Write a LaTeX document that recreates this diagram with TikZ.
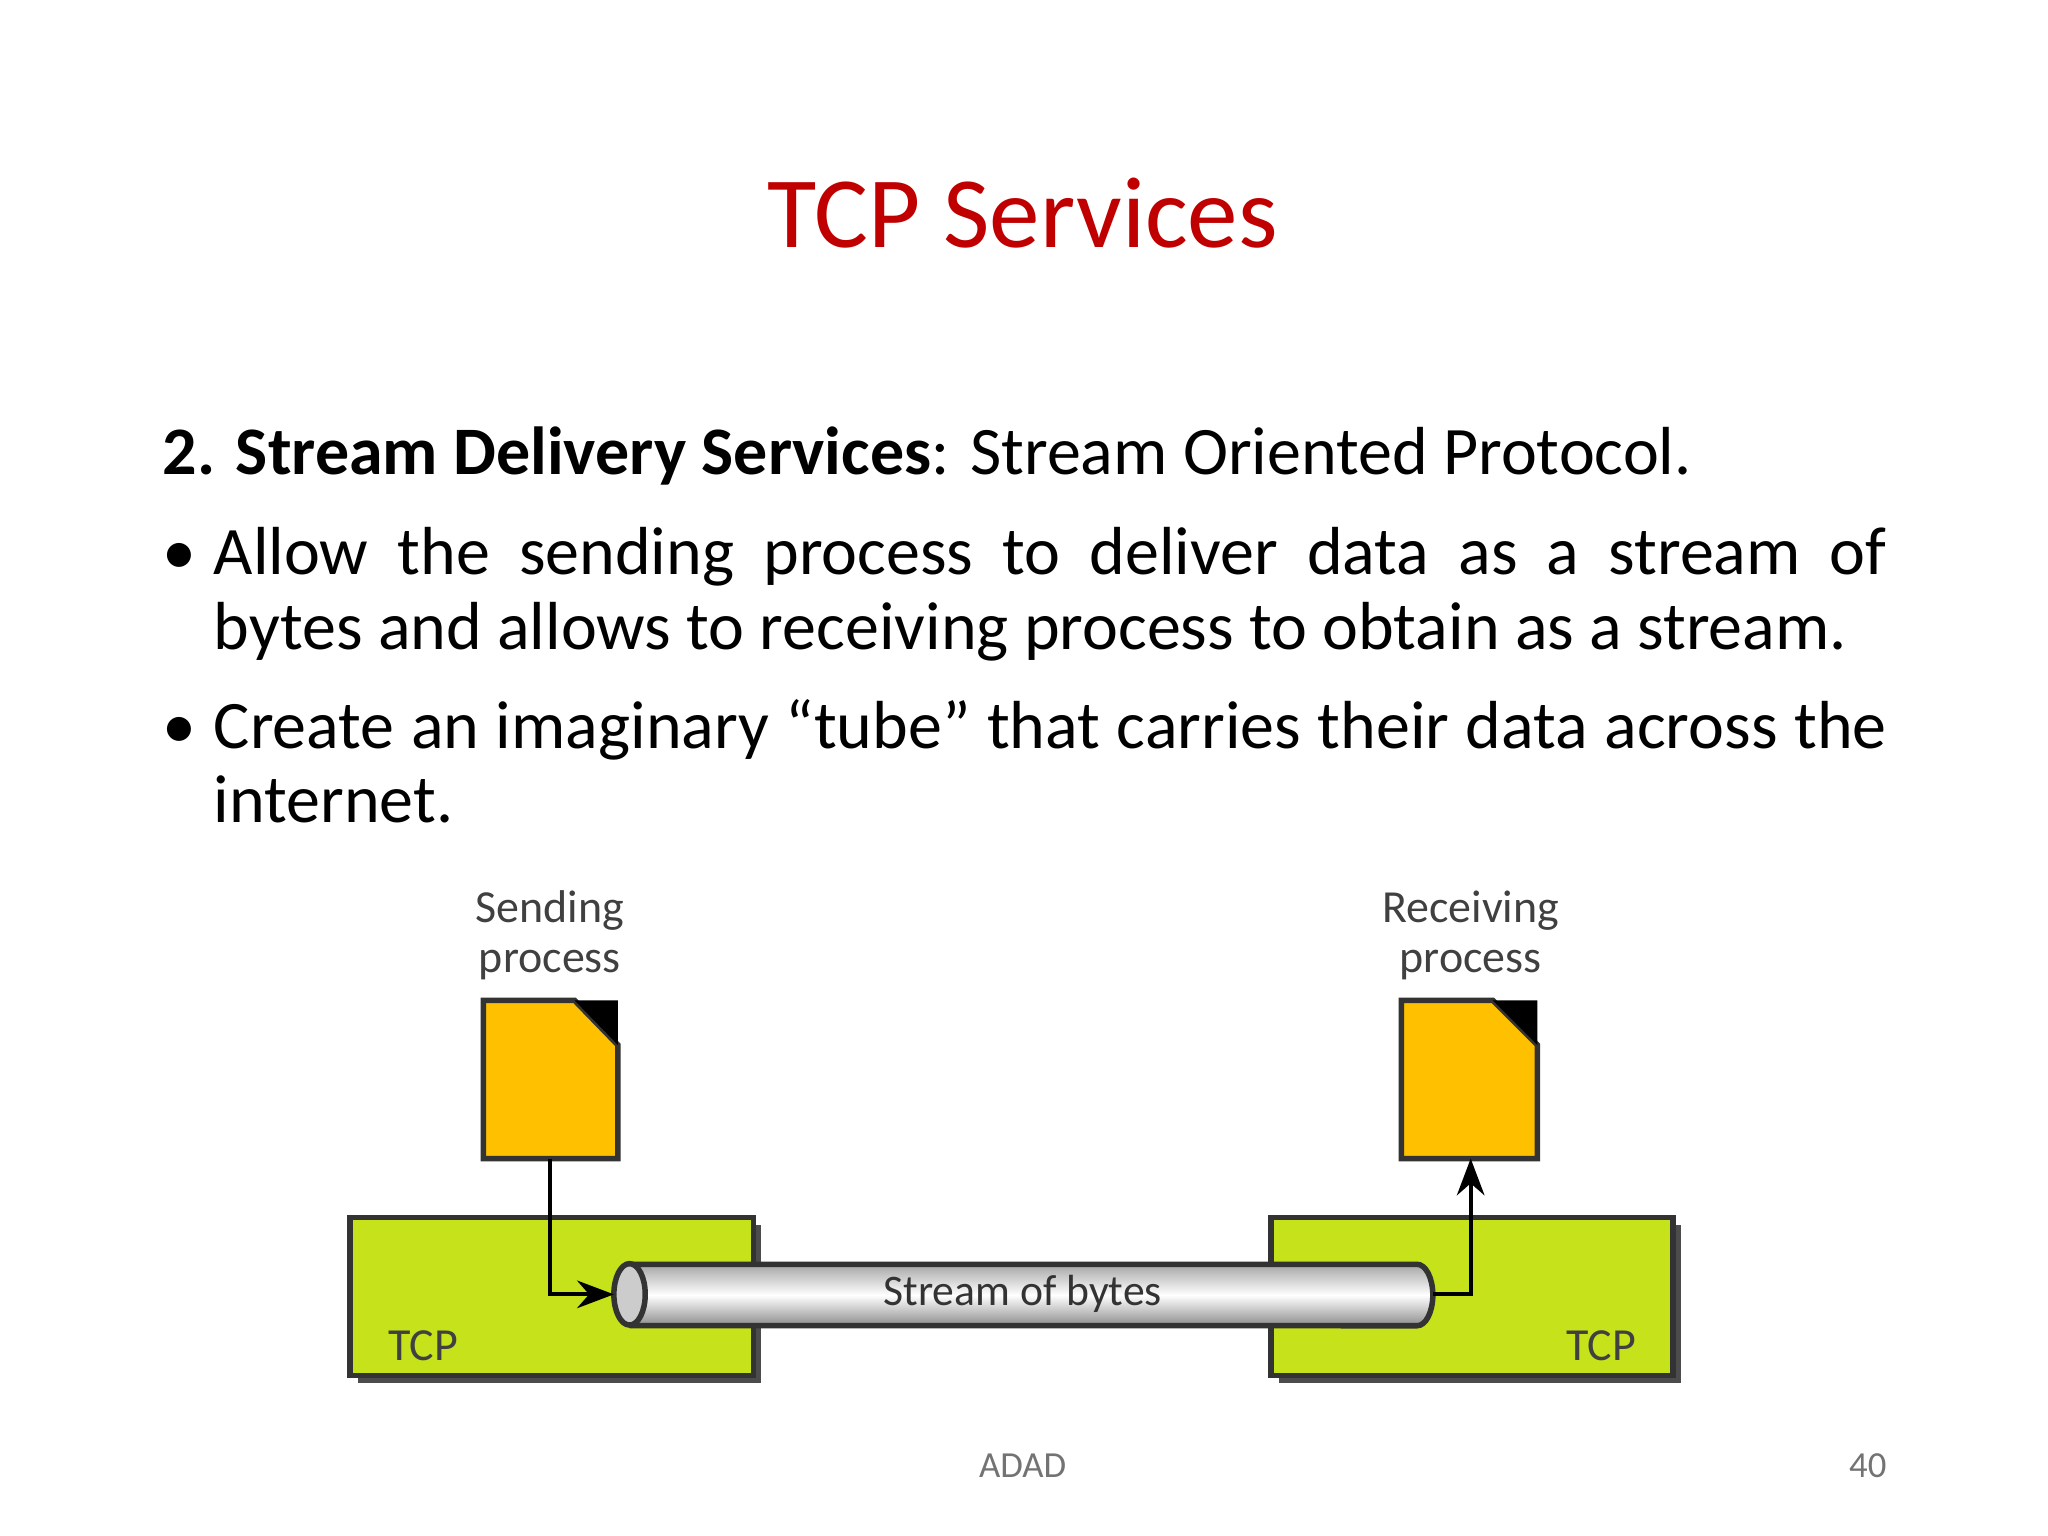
\documentclass[tikz,border=0pt]{standalone}
\usepackage{fontspec}
\setmainfont{Carlito}
\usetikzlibrary{arrows.meta,shadings}
\definecolor{tred}{HTML}{C00000}
\definecolor{tgreen}{HTML}{C5E21A}
\definecolor{tyel}{HTML}{FFC000}
\tikzset{
 tcpbox/.style={draw=black!80,line width=1.2pt,fill=tgreen},
 doc/.style={draw=black!80,line width=1.2pt,fill=tyel},
 lbl/.style={font=\fontsize{10}{10.8}\selectfont,text=black!75,align=center},
 conn/.style={line width=0.9pt,-{Stealth[length=8pt,width=6pt]}},
 body/.style={font=\fontsize{14.8}{16.2}\selectfont,anchor=base west,inner sep=0}
}
\begin{document}
\begin{tikzpicture}[x=0.01cm,y=-0.01cm]
\useasboundingbox (0,0) rectangle (1568,1176);
\node[text=tred,font=\fontsize{22}{26}\selectfont] (title) at (783,163) {TCP Services};
\node[body] (head) at (124,363) {\textbf{2. Stream Delivery Services}: Stream Oriented Protocol.};
\node[body] (b1) at (124,440) {•};
\node[body] (t1a) at (163,440) {\makebox[12.8cm][s]{Allow the sending process to deliver data as a stream of}};
\node[body] (t1b) at (163,497) {bytes and allows to receiving process to obtain as a stream.};
\node[body] (b2) at (124,573) {•};
\node[body] (t2a) at (163,573) {\makebox[12.8cm][s]{Create an imaginary “tube” that carries their data across the}};
\node[body] (t2b) at (163,630) {internet.};
% TCP boxes
\fill[black!70] (274,938) rectangle (583,1059);
\fill[black!70] (979,938) rectangle (1287,1059);
\draw[tcpbox] (268,932) rectangle (577,1053);
\draw[tcpbox] (973,932) rectangle (1281,1053);
\node[lbl,anchor=west] (tl) at (285,1030) {TCP};
\node[lbl,anchor=east] (tr) at (1265,1030) {TCP};
% docs
\draw[doc] (370,766) -- (440,766) -- (473,800) -- (473,887) -- (370,887) -- cycle;
\fill[black] (440,766) -- (473,800) -- (473,766) -- cycle;
\draw[doc] (1073,766) -- (1143,766) -- (1177,800) -- (1177,887) -- (1073,887) -- cycle;
\fill[black] (1143,766) -- (1177,800) -- (1177,766) -- cycle;
\coordinate (sd) at (421,887);
\coordinate (rd) at (1126,887);
\node[lbl] (sl) at (421,716) {Sending\\process};
\node[lbl] (rl) at (1126,716) {Receiving\\process};
% tube
\shade[top color=black!35,bottom color=black!45,middle color=white] (482,968) -- (1085,968) arc (90:-90:0.12cm and 0.235cm) -- (482,1015) -- cycle;
\draw[black!80,line width=1.2pt] (482,968) -- (1085,968) arc (90:-90:0.12cm and 0.235cm) -- (482,1015);
\draw[black!80,line width=1.2pt,fill=black!20] (482,991) ellipse (0.12cm and 0.235cm);
\coordinate (tubeL) at (470,991);
\coordinate (tubeR) at (1097,991);
\node[lbl,text=black!80,font=\fontsize{9.5}{10}\selectfont] (st) at (783,991) {Stream of bytes};
\draw[conn] (sd) -- (421,991) -- (tubeL);
\draw[conn] (tubeR) -- (1126,991) -- (rd);
% footer
\node[text=black!55,font=\fontsize{8}{9}\selectfont] (f1) at (783,1122) {ADAD};
\node[text=black!55,font=\fontsize{8}{9}\selectfont] (f2) at (1430,1122) {40};
\end{tikzpicture}
\end{document}
